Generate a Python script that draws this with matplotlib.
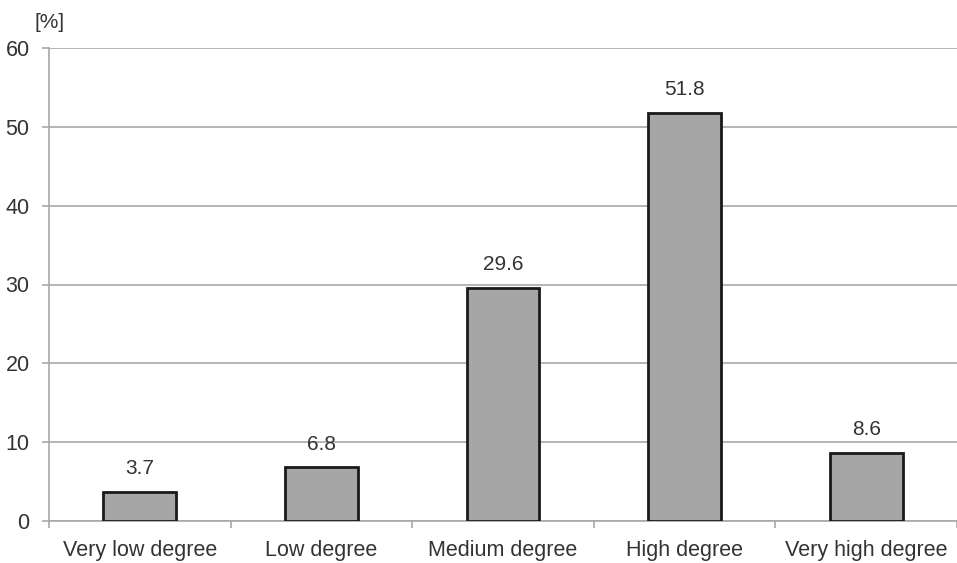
import matplotlib
matplotlib.use("Agg")
import matplotlib.pyplot as plt

categories = ["Very low degree", "Low degree", "Medium degree", "High degree", "Very high degree"]
values = [3.7, 6.8, 29.6, 51.8, 8.6]
yticks = [0, 10, 20, 30, 40, 50, 60]

plt.rcParams['font.family'] = ['Liberation Sans', 'DejaVu Sans']
text_color = "#333333"
grid_color = "#a8a8a8"

fig = plt.figure(figsize=(9.57, 5.63), dpi=100)
ax = fig.add_axes([49 / 957, 1 - 521 / 563, 908 / 957, (521 - 48) / 563])

x = list(range(len(categories)))
bars = ax.bar(x, values, width=0.4, color="#a6a6a6", edgecolor="#1a1a1a", linewidth=2, zorder=3)

for xi, v in zip(x, values):
    ax.annotate(f"{v}", (xi, v), xytext=(0, 10), textcoords="offset points",
                ha="center", va="bottom", fontsize=15, color=text_color)

ax.set_xlim(-0.5, len(categories) - 0.5)
ax.set_ylim(0, 60)
ax.set_yticks(yticks)
ax.yaxis.grid(True, color=grid_color, linewidth=1.2, zorder=0)
ax.set_axisbelow(True)

# category labels centred, small ticks on the boundaries
ax.set_xticks([i - 0.5 for i in range(len(categories) + 1)])
ax.set_xticklabels([])
ax.set_xticks(x, minor=True)
ax.set_xticklabels(categories, minor=True, fontsize=15.5, color=text_color)
ax.tick_params(axis="x", which="major", length=5, color=grid_color, width=1.2)
ax.tick_params(axis="x", which="minor", length=0, pad=14)
ax.tick_params(axis="y", length=5, color=grid_color, width=1.2, labelsize=15.5, labelcolor=text_color, pad=9)

for s in ["top", "right"]:
    ax.spines[s].set_visible(False)
ax.spines["left"].set_color(grid_color)
ax.spines["left"].set_linewidth(1.2)
ax.spines["bottom"].set_color(grid_color)
ax.spines["bottom"].set_linewidth(1.2)

fig.text(35 / 957, 1 - 22 / 563, "[%]", fontsize=15, color=text_color, va="center", ha="left")

fig.savefig("out.png", dpi=100)
